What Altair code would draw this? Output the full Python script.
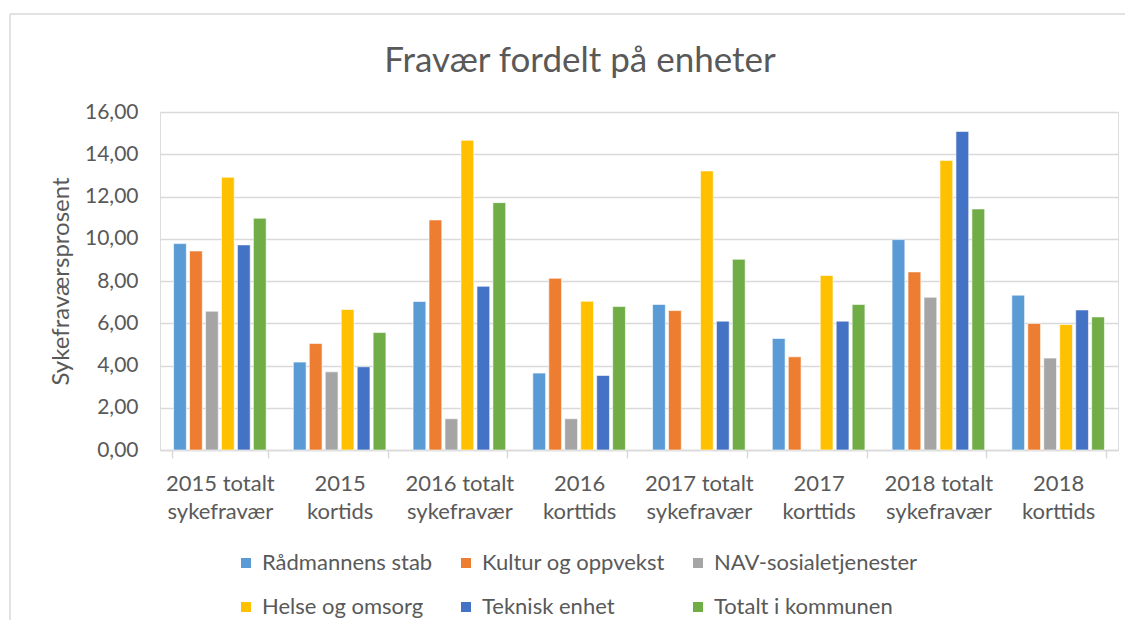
import altair as alt
import pandas as pd

categories = ["2015 totalt sykefravær", "2015 kortids", "2016 totalt sykefravær", "2016 korttids",
              "2017 totalt sykefravær", "2017 korttids", "2018 totalt sykefravær", "2018 korttids"]
series = ["Rådmannens stab", "Kultur og oppvekst", "NAV-sosialetjenester",
          "Helse og omsorg", "Teknisk enhet", "Totalt i kommunen"]
colors = ["#5B9BD5", "#ED7D31", "#A5A5A5", "#FFC000", "#4472C4", "#70AD47"]
title_text = ["Fravær fordelt på enheter"]

radmannens_stab = [9.77, 4.16, 7.03, 3.64, 6.89, 5.28, 9.96, 7.33]
kultur_oppvekst = [9.42, 5.04, 10.89, 8.13, 6.60, 4.41, 8.43, 5.99]
nav_sosial = [6.57, 3.70, 1.48, 1.48, None, None, 7.23, 4.35]
helse_omsorg = [12.91, 6.65, 14.66, 7.04, 13.21, 8.26, 13.71, 5.94]
teknisk_enhet = [9.71, 3.94, 7.75, 3.53, 6.10, 6.10, 15.08, 6.63]
totalt_kommunen = [10.97, 5.56, 11.71, 6.79, 9.03, 6.89, 11.41, 6.30]

values = [radmannens_stab, kultur_oppvekst, nav_sosial, helse_omsorg, teknisk_enhet, totalt_kommunen]
rows = []
for s, vals in zip(series, values):
    for c, v in zip(categories, vals):
        rows.append({"Kategori": c, "Enhet": s, "Verdi": v})
df = pd.DataFrame(rows)

FONT = "Lato"
GREY = "#595959"
LINE = "#d9d9d9"

bars = alt.Chart(df).mark_bar(stroke="white", strokeWidth=0.6).encode(
    x=alt.X("Kategori:N", sort=categories,
            scale=alt.Scale(paddingInner=0.2, paddingOuter=0.1),
            axis=alt.Axis(title=None, labelAngle=0, labelFont=FONT, labelFontSize=22,
                          labelColor=GREY, labelPadding=15, labelLineHeight=28,
                          labelBaseline="top",
                          labelExpr="indexof(datum.label,'totalt')>0 ? [slice(datum.label,0,11), slice(datum.label,12)] : split(datum.label,' ')",
                          domainColor=LINE, domainWidth=1.5, tickColor=LINE, tickWidth=1.5,
                          tickSize=8, tickBand="extent", grid=False)),
    xOffset=alt.XOffset("Enhet:N", sort=series,
                        scale=alt.Scale(paddingInner=0.2, paddingOuter=0.1)),
    y=alt.Y("Verdi:Q", scale=alt.Scale(domain=[0, 16]),
            axis=alt.Axis(title="Sykefraværsprosent", values=list(range(0, 17, 2)),
                          labelExpr="replace(format(datum.value, '.2f'), '.', ',')",
                          labelFont=FONT, labelFontSize=21, labelColor=GREY,
                          labelPadding=22, ticks=False, domain=False,
                          gridColor=LINE, gridWidth=1.5,
                          titleFont=FONT, titleFontSize=24, titleColor=GREY,
                          titleFontWeight="normal", titleAngle=-90,
                          titleX=-99, titleY=169, titleAlign="center", titleBaseline="middle")),
    color=alt.Color("Enhet:N", sort=series,
                    scale=alt.Scale(domain=series, range=colors),
                    legend=alt.Legend(title=None, orient="none", legendX=75, legendY=440,
                                      direction="horizontal", columns=3,
                                      columnPadding=22, rowPadding=22,
                                      symbolType="square", symbolSize=100, symbolStrokeWidth=0,
                                      labelFont=FONT, labelFontSize=22, labelColor=GREY,
                                      labelOffset=5, labelLimit=400)),
)

frame = pd.DataFrame({"k": [0]})
left_border = alt.Chart(frame).mark_rule(color=LINE, strokeWidth=1.5).encode(
    x=alt.value(-150), y=alt.value(-98), y2=alt.value(700))
top_border = alt.Chart(frame).mark_rule(color=LINE, strokeWidth=1.5).encode(
    x=alt.value(-150), x2=alt.value(1100), y=alt.value(-98))

title = alt.Chart(pd.DataFrame({"t": title_text})).mark_text(
    font=FONT, fontSize=35, color=GREY, align="center", baseline="middle"
).encode(text="t:N", x=alt.value(420), y=alt.value(-51))

chart = alt.layer(left_border, top_border, bars, title).properties(
    width=958, height=338,
    autosize=alt.AutoSizeParams(type="none"),
    padding={"left": 152, "top": 104, "right": 7, "bottom": 170},
).configure_view(stroke=None).configure(background="white")

chart.save("out.html", embed_options={"renderer": "svg", "actions": False})
